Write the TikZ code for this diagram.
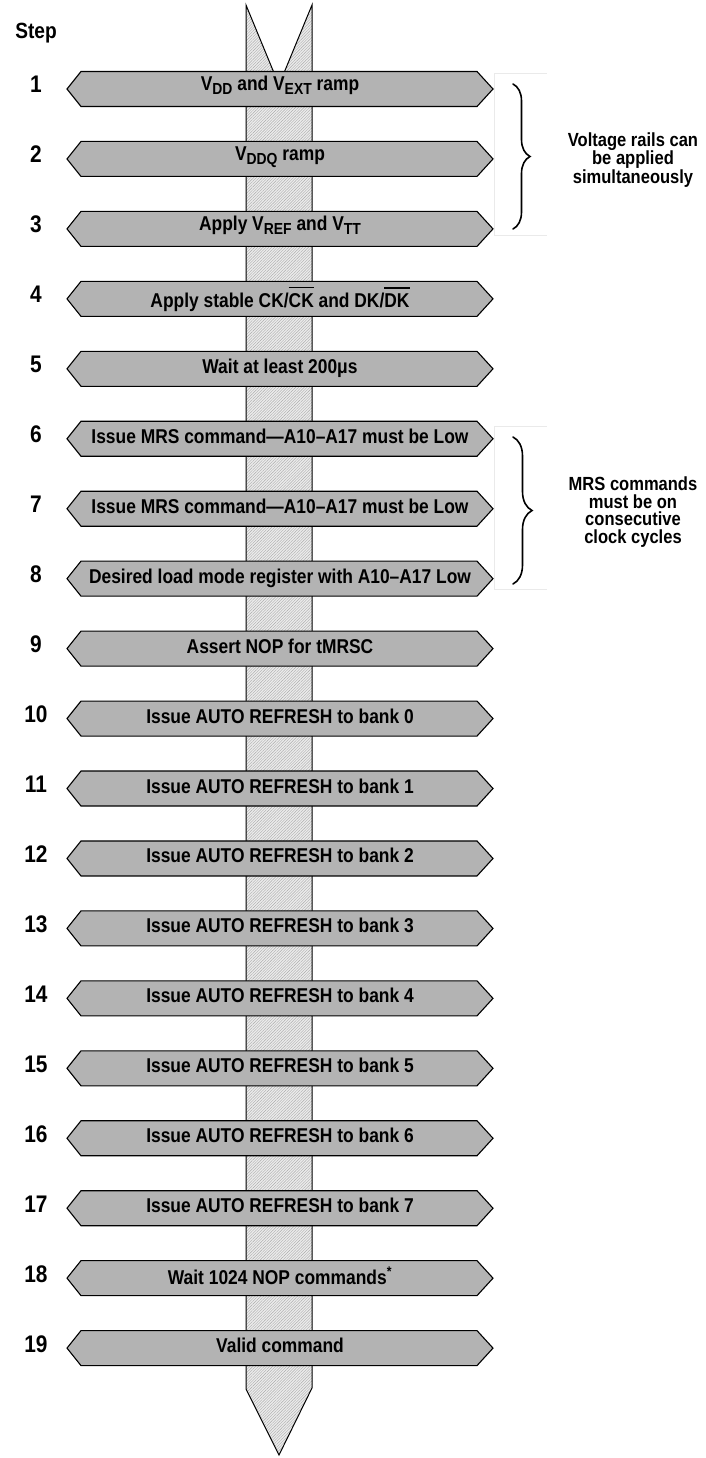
\documentclass[tikz,border=0pt]{standalone}
\usepackage{fontspec}
\setmainfont{Liberation Sans}[FakeStretch=0.87]
\usetikzlibrary{patterns.meta,decorations.pathreplacing}
\definecolor{boxgray}{RGB}{179,179,179}
\definecolor{framegray}{RGB}{234,234,234}
\definecolor{shaftbg}{RGB}{236,236,236}
\definecolor{hatch}{RGB}{170,170,170}
\newcommand\bxfont{\fontsize{20}{24}\selectfont\bfseries}
\newcommand\stepfont{\fontsize{24}{28}\selectfont\bfseries}
\newcommand\notefont{\fontsize{19}{17.6}\selectfont\bfseries}
\newcommand\sbs[1]{\raisebox{-4.5pt}{\fontsize{16}{16}\selectfont\bfseries #1}}
\newcommand\ovl[1]{\setbox0\hbox{#1}\rlap{\raisebox{\dimexpr\ht0+5pt\relax}{\rule{\wd0}{1.4pt}}}\box0\relax}
\tikzset{
  stepbox/.style={draw=black, line width=1.1pt, fill=boxgray, line join=miter},
  boxtext/.style={anchor=base, inner sep=0pt, font=\bxfont},
  steplabel/.style={anchor=base, inner sep=0pt, font=\stepfont},
  note/.style={align=center, inner sep=0pt, font=\notefont},
  curly/.style={decorate, decoration={brace, amplitude=#1}, line width=1.6pt, line cap=round},
  frameline/.style={draw=framegray, line width=1pt},
  shaft/.style={draw=black, line width=1pt, preaction={fill=shaftbg},
    pattern={Lines[angle=45,distance=2pt,line width=0.4pt]}, pattern color=hatch}
}
\begin{document}
\begin{tikzpicture}[x=1pt,y=-1pt]
\useasboundingbox (0,0) rectangle (705,1458);
% shaft
\path[shaft] (246,5) -- (279,85) -- (312,5) -- (312,1388) -- (279,1455) -- (246,1389) -- cycle;
% header
\node[anchor=base, inner sep=0pt, font=\fontsize{22}{26}\selectfont\bfseries] (hdr) at (36,38.5) {Step};
% boxes
\foreach \n/\o/\t in {
  1/1.5/{V\sbs{DD} and V\sbs{EXT} ramp},
  2/1.5/{V\sbs{DDQ} ramp},
  3/1.5/{Apply V\sbs{REF} and V\sbs{TT}},
  4/8.5/{Apply stable CK/\ovl{CK} and DK/\ovl{DK}},
  5/4.5/{Wait at least 200μs},
  6/4.5/{Issue MRS command—A10–A17 must be Low},
  7/4.5/{Issue MRS command—A10–A17 must be Low},
  8/4.5/{Desired load mode register with A10–A17 Low},
  9/4.5/{Assert NOP for tMRSC},
  10/4.5/{Issue AUTO REFRESH to bank 0},
  11/4.5/{Issue AUTO REFRESH to bank 1},
  12/4.5/{Issue AUTO REFRESH to bank 2},
  13/4.5/{Issue AUTO REFRESH to bank 3},
  14/4.5/{Issue AUTO REFRESH to bank 4},
  15/4.5/{Issue AUTO REFRESH to bank 5},
  16/4.5/{Issue AUTO REFRESH to bank 6},
  17/4.5/{Issue AUTO REFRESH to bank 7},
  18/6/{Wait 1024 NOP commands\textsuperscript{*}},
  19/4.5/{Valid command}}{
  \pgfmathsetmacro\yc{89+(\n-1)*69.95}
  \draw[stepbox] (67,\yc) -- (81,\yc-17.5) -- (477,\yc-17.5) -- (493,\yc) -- (477,\yc+17.5) -- (81,\yc+17.5) -- cycle;
  \node[boxtext] (b\n) at (280,\yc+\o) {\t};
  \node[steplabel] (s\n) at (36,\yc+4) {\n};
}
% frames and braces
\draw[frameline] (547,74) -- (494,74) -- (494,235) -- (547,235);
\draw[frameline] (547,426) -- (494,426) -- (494,589) -- (547,589);
\coordinate (br1a) at (513,84);
\coordinate (br1b) at (513,229);
\coordinate (br2a) at (513,437);
\coordinate (br2b) at (513,584);
\draw[curly=17] (br1a) -- (br1b);
\draw[curly=19] (br2a) -- (br2b);
\node[note] (n1) at (633,160) {Voltage rails can\\be applied\\simultaneously};
\node[note] (n2) at (633,512) {MRS commands\\must be on\\consecutive\\clock cycles};
\end{tikzpicture}
\end{document}
